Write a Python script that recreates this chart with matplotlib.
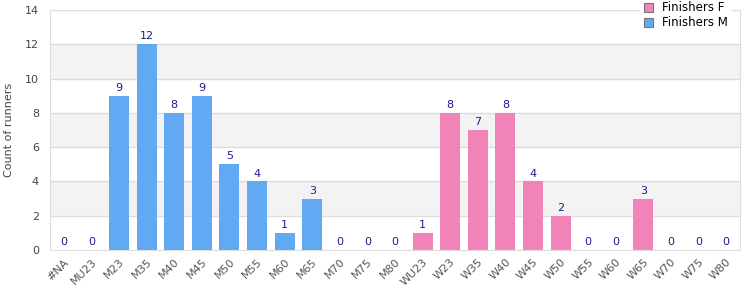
#!/usr/bin/env python3
import matplotlib
matplotlib.use("Agg")
import matplotlib.pyplot as plt
import numpy as np

categories = ["#NA", "MU23", "M23", "M35", "M40", "M45", "M50", "M55", "M60", "M65",
              "M70", "M75", "M80", "WU23", "W23", "W35", "W40", "W45", "W50", "W55",
              "W60", "W65", "W70", "W75", "W80"]
male_cats = categories[:13]
female_cats = categories[13:]
male_counts = [0, 0, 9, 12, 8, 9, 5, 4, 1, 3, 0, 0, 0]
female_counts = [1, 8, 7, 8, 4, 2, 0, 0, 3, 0, 0, 0]

BLUE = "#61a9f2"
PINK = "#f283b9"
LABEL_COLOR = "#1c1c8c"
GRID = "#dddddd"

plt.rcParams["font.family"] = ["DejaVu Sans"]

fig = plt.figure(figsize=(7.5, 3.0), dpi=100)
ax = fig.add_axes([0.0667, 0.1667, 0.92, 0.8])

x = np.arange(len(categories))
xm = x[:len(male_cats)]
xf = x[len(male_cats):]

# alternating bands
for lo in range(2, 14, 4):
    ax.axhspan(lo, lo + 2, color="#f3f3f3", zorder=0, lw=0)
for yv in range(2, 15, 2):
    ax.axhline(yv, color=GRID, lw=1, zorder=1)

bars_f = ax.bar(xf, female_counts, width=0.72, color=PINK, zorder=2, label="Finishers F")
bars_m = ax.bar(xm, male_counts, width=0.72, color=BLUE, zorder=2, label="Finishers M")

for bars in (bars_m, bars_f):
    for b in bars:
        h = b.get_height()
        ax.annotate(f"{int(h)}", (b.get_x() + b.get_width() / 2, h),
                    xytext=(0, 2), textcoords="offset points",
                    ha="center", va="bottom", fontsize=8, color=LABEL_COLOR)

ax.set_xlim(-0.5, len(categories) - 0.5)
ax.set_ylim(0, 14)
ax.set_yticks(range(0, 15, 2))
ax.set_xticks(x)
ax.set_xticklabels(categories, rotation=45, ha="right", rotation_mode="anchor")
ax.tick_params(axis="both", length=0, labelsize=8, colors="#444444")
ax.tick_params(axis="x", pad=5, colors="#555555")
ax.tick_params(axis="y", pad=8)
ax.set_ylabel("Count of runners", fontsize=8, color="#444444", labelpad=8)

for s in ax.spines.values():
    s.set_color(GRID)

ax.legend(loc="upper right", bbox_to_anchor=(0.995, 1.07), frameon=True, fontsize=8.5,
          handlelength=0.8, handleheight=0.8, borderpad=0.2, labelspacing=0.15,
          edgecolor="white", framealpha=1, fancybox=False)
leg = ax.get_legend()
for h in leg.legend_handles:
    h.set_edgecolor("#777777")
    h.set_linewidth(0.8)

fig.savefig("out.png", dpi=100)
